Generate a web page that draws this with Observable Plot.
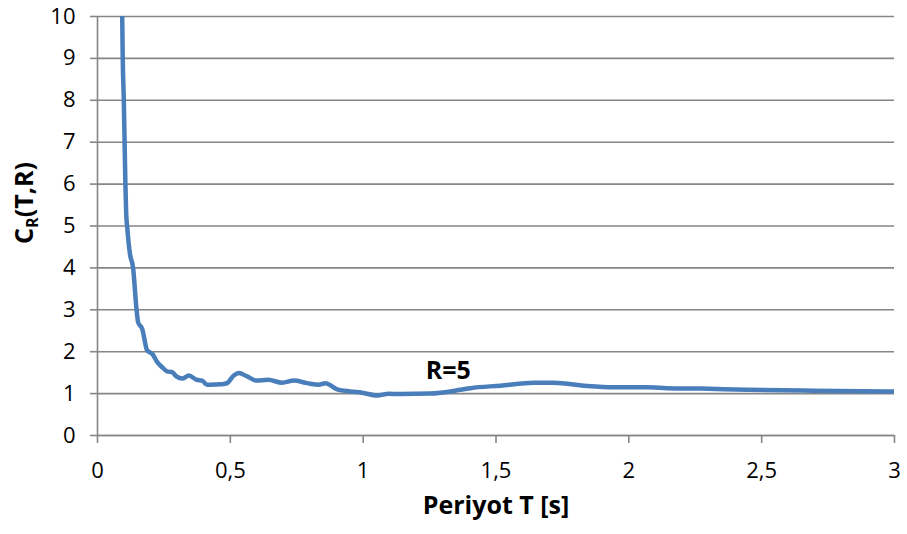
<!DOCTYPE html>
<html>
<head>
<meta charset="utf-8">
<script src="https://cdn.jsdelivr.net/npm/d3@7"></script>
<script src="https://cdn.jsdelivr.net/npm/@observablehq/plot@0.6"></script>
<style>
  html, body { margin: 0; padding: 0; background: #fff; }
</style>
</head>
<body>
<div id="chart"></div>
<script>
// Period T [s]
const periods = [0.093, 0.095, 0.099, 0.102, 0.105, 0.108, 0.112, 0.122, 0.134, 0.147,
  0.153, 0.168, 0.187, 0.206, 0.225, 0.245, 0.262, 0.281, 0.297, 0.319,
  0.344, 0.373, 0.394, 0.413, 0.45, 0.475, 0.488, 0.513, 0.532, 0.563,
  0.598, 0.642, 0.695, 0.739, 0.789, 0.833, 0.858, 0.902, 0.952, 0.996,
  1.053, 1.096, 1.14, 1.253, 1.366, 1.404, 1.517, 1.642, 1.717, 1.843,
  1.943, 2.069, 2.144, 2.27, 2.445, 2.696, 3.0];
// C_R(T,R) for R=5
const crValues = [10.0, 9.0, 8.0, 7.0, 6.0, 5.3, 4.96, 4.34, 4.0, 3.0,
  2.7, 2.55, 2.03, 1.95, 1.75, 1.62, 1.53, 1.51, 1.41, 1.36,
  1.43, 1.33, 1.31, 1.21, 1.22, 1.23, 1.25, 1.43, 1.49, 1.41,
  1.31, 1.33, 1.26, 1.31, 1.25, 1.21, 1.25, 1.10, 1.05, 1.02,
  0.955, 0.995, 0.99, 1.0, 1.09, 1.13, 1.19, 1.26, 1.26, 1.18,
  1.15, 1.15, 1.13, 1.12, 1.09, 1.07, 1.05];
const xTicks = [0, 0.5, 1, 1.5, 2, 2.5, 3];
const yTicks = [0, 1, 2, 3, 4, 5, 6, 7, 8, 9, 10];
const seriesLabel = "R=5";
const xTitle = "Periyot T [s]";

const data = periods.map((t, i) => ({T: t, C: crValues[i]}));
const gridColor = "#868686";

const chart = Plot.plot({
  width: 907,
  height: 534,
  marginLeft: 97,
  marginRight: 13,
  marginTop: 16,
  marginBottom: 99,
  style: {fontFamily: "'Open Sans', sans-serif", fontSize: "22px", color: "#000", background: "#fff"},
  x: {domain: [0, 3]},
  y: {domain: [0, 10]},
  marks: [
    Plot.gridY(yTicks, {stroke: gridColor, strokeOpacity: 1, strokeWidth: 1.6}),
    Plot.ruleX([0], {stroke: gridColor, strokeWidth: 1.6}),
    Plot.ruleY([0], {stroke: gridColor, strokeWidth: 1.6}),
    Plot.axisX({ticks: xTicks, tickFormat: d => String(d).replace(".", ","), tickSize: 8, tickPadding: 19, stroke: gridColor, strokeWidth: 1.6, label: null, fill: "#000"}),
    Plot.axisY({ticks: yTicks, tickSize: 7, tickPadding: 15, stroke: gridColor, strokeWidth: 1.6, label: null, fill: "#000"}),
    Plot.line(data, {x: "T", y: "C", stroke: "#4a7ebb", strokeWidth: 4.5, curve: "monotone-x", clip: true}),
    Plot.text([seriesLabel], {x: 1.32, y: 1.55, text: d => d, fontWeight: "bold", fontSize: 25, fill: "#000"}),
    Plot.text([xTitle], {frameAnchor: "bottom", text: d => d, dy: 78, fontWeight: "bold", fontSize: 25, fill: "#000"})
  ]
});

// Y-axis title with subscript
const svg = d3.select(chart);
const yt = svg.append("text")
  .attr("transform", "translate(33,203) rotate(-90)")
  .attr("text-anchor", "middle")
  .attr("font-family", "'Open Sans', sans-serif")
  .attr("font-weight", "bold")
  .attr("font-size", 25)
  .attr("textLength", 82)
  .attr("lengthAdjust", "spacingAndGlyphs")
  .attr("fill", "#000");
yt.append("tspan").text("C");
yt.append("tspan").attr("font-size", 16).attr("dy", 5).text("R");
yt.append("tspan").attr("dy", -5).text("(T,R)");

document.getElementById("chart").appendChild(chart);
</script>
</body>
</html>
